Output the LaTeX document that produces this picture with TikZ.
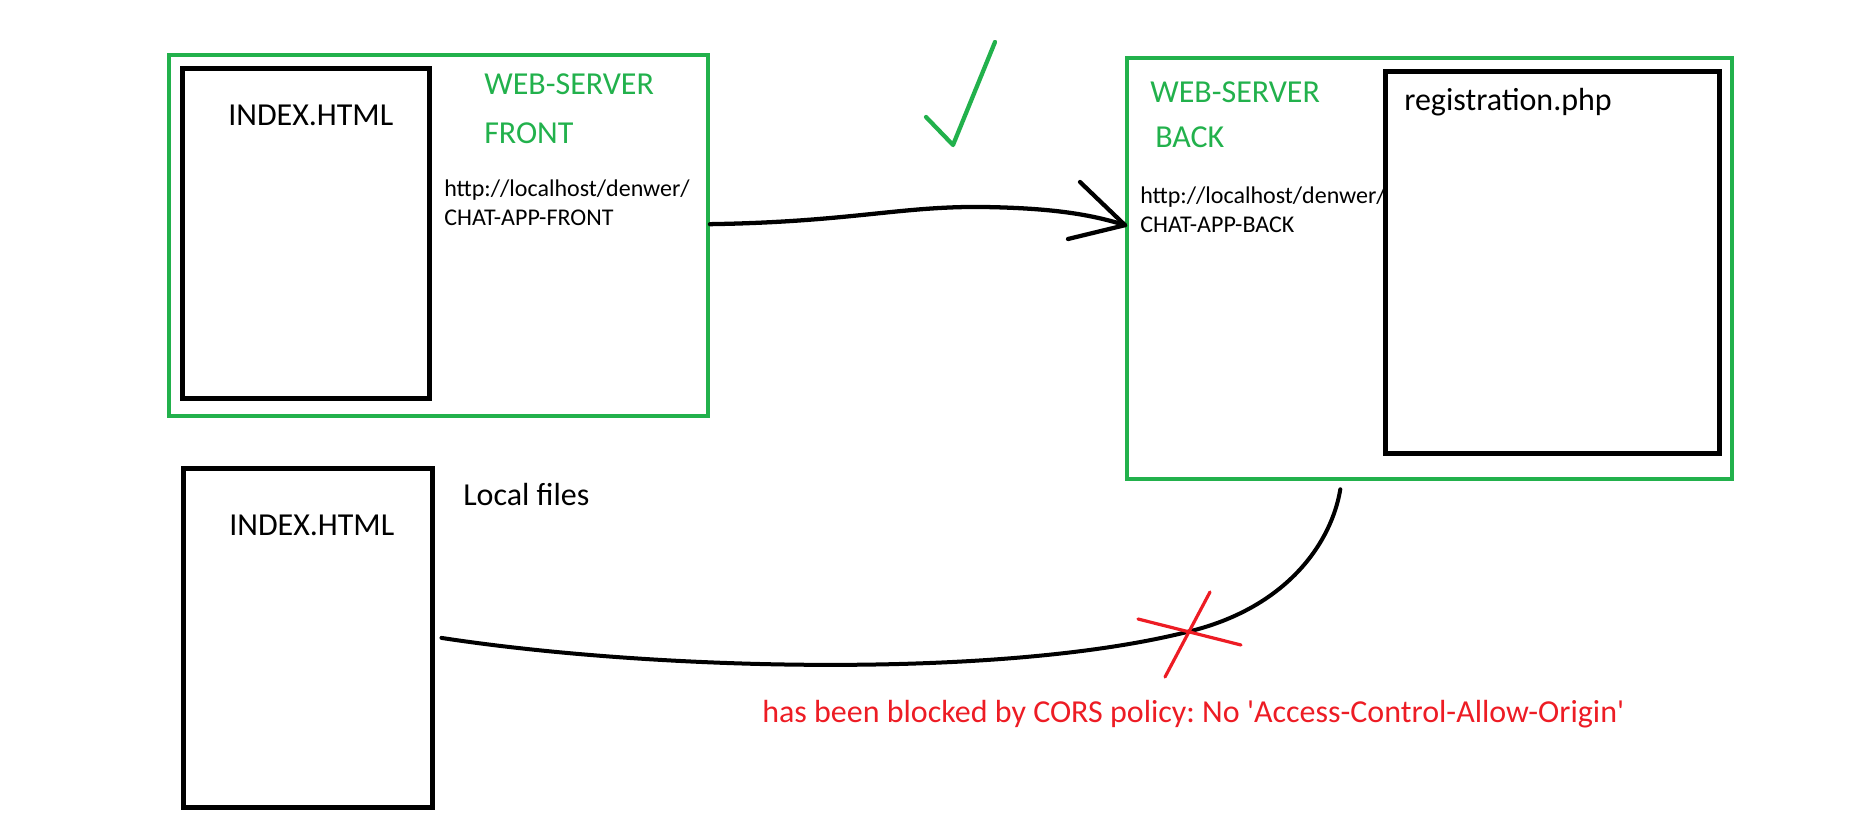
\documentclass[tikz,border=0pt]{standalone}
\usepackage{fontspec}
\setmainfont{Carlito}
\definecolor{paintgreen}{RGB}{34,177,76}
\definecolor{paintred}{RGB}{237,28,36}
\frenchspacing

\begin{document}
\begin{tikzpicture}[x=0.75pt,y=-0.75pt,
  srv/.style={draw=paintgreen, line width=3.2pt, anchor=north west, inner sep=0pt},
  file/.style={draw=black, line width=3.6pt, anchor=north west, inner sep=0pt},
  big/.style={anchor=base west, inner sep=0pt, font=\fontsize{24}{29}\selectfont},
  small/.style={anchor=base west, inner sep=0pt, font=\fontsize{18}{22}\selectfont},
  wire/.style={line width=3.2pt, line cap=round, line join=round}]

\useasboundingbox (0,0) rectangle (1872,830);

% boxes
\node[srv, minimum width=404pt, minimum height=270.75pt] (front) at (167,53) {};
\node[file, minimum width=185.25pt, minimum height=247.5pt] (index) at (180,66) {};
\node[srv, minimum width=453.75pt, minimum height=315.75pt] (back) at (1125,56) {};
\node[file, minimum width=250.5pt, minimum height=286.5pt] (reg) at (1383,69) {};
\node[file, minimum width=186.75pt, minimum height=254.25pt] (local) at (181,466) {};

% texts
\node[big] (indextxt) at (228,126) {INDEX.HTML};
\node[big, paintgreen] (fweb) at (484,95) {WEB-SERVER};
\node[big, paintgreen] (fname) at (484,144) {FRONT};
\node[small] (furl) at (444,197) {http://localhost/denwer/};
\node[small] (fapp) at (444,226) {CHAT-APP-FRONT};

\node[big, paintgreen] (bweb) at (1150,103) {WEB-SERVER};
\node[big, paintgreen] (bname) at (1155,148) {BACK};
\node[small] (burl) at (1140,204) {http://localhost/denwer/};
\node[small] (bapp) at (1140,233) {CHAT-APP-BACK};
\node[big] (regtxt) at (1404,111) {registration.php};

\node[big] (localtxt) at (463,505) {Local files};
\node[big] (localidx) at (229,535) {INDEX.HTML};
\node[big, paintred] (cors) at (762,722) {has been blocked by CORS policy: No \textquotesingle Access-Control-Allow-Origin\textquotesingle};

% request that works
\coordinate (fout) at ([yshift=8.6pt]front.east);
\coordinate (bin) at ([yshift=32.6pt]back.west);
\draw[wire] (fout) .. controls (850,222) and (900,206) .. (983,207)
  .. controls (1050,208) and (1090,214) .. (bin);
\draw[wire] (1080,182) -- (bin) -- (1068,239);
\draw[wire, paintgreen] (926,117) -- (953,145) -- (995,42);

% request that is blocked
\coordinate (lout) at ([xshift=5pt]local.east);
\coordinate (bout) at ([xshift=-67pt, yshift=-6pt]back.south);
\coordinate (block) at (1191,631);
\draw[wire, line width=3pt] (lout) .. controls (650,670) and (1000,680) .. (block)
  .. controls (1290,606) and (1332,540) .. (bout);
\draw[wire, paintred, line width=2.4pt] (1138,619) -- (1241,645);
\draw[wire, paintred, line width=2.4pt] (1210,592) -- (1165,677);
\end{tikzpicture}
\end{document}
